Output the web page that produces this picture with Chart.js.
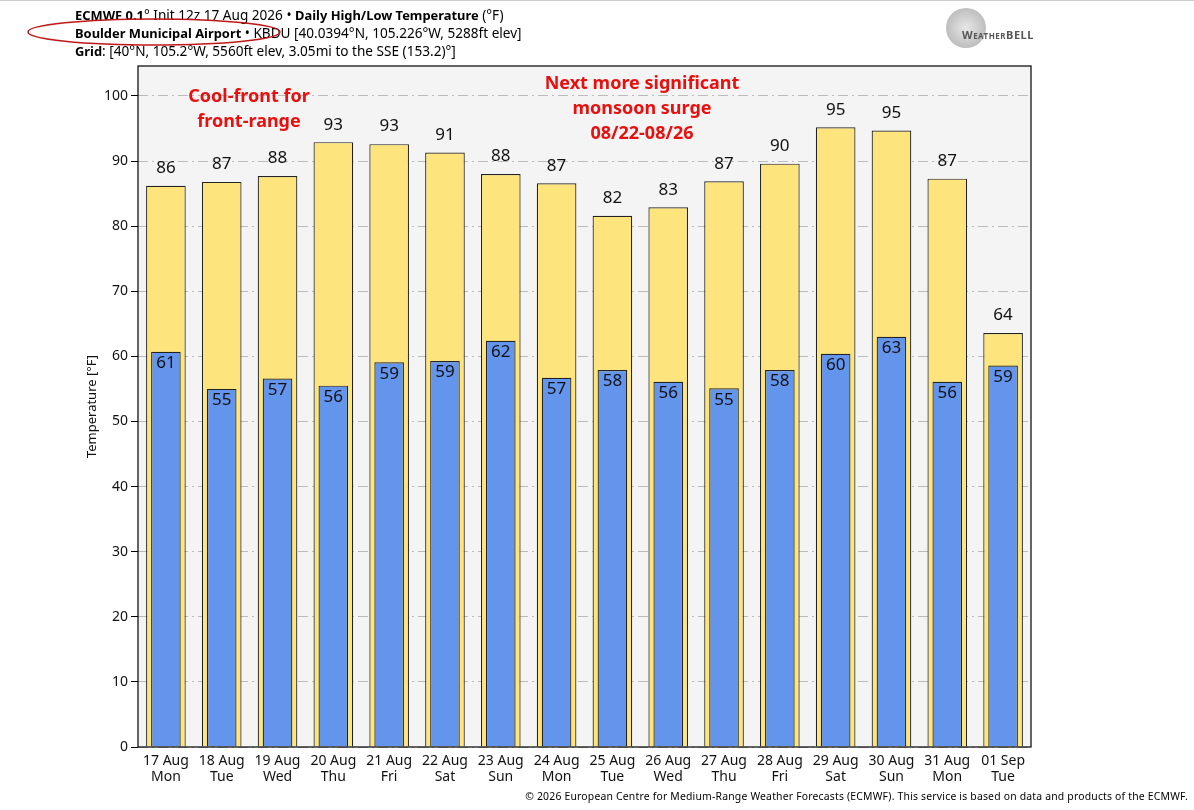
<!DOCTYPE html>
<html><head><meta charset="utf-8">
<script src="https://cdn.jsdelivr.net/npm/chart.js@4"></script>
<style>
body{margin:0;background:#fff;font-family:"Noto Sans",sans-serif;}
#wrap{position:relative;width:1194px;height:810px;overflow:hidden;}
.t{position:absolute;white-space:nowrap;color:#000;}
.hdr{left:75px;font-size:13.6px;line-height:18px;}
.hdr b{font-size:12.9px}
.red{position:absolute;color:#e8100e;font-weight:bold;font-size:18px;line-height:25px;text-align:center;}
</style></head><body>
<div id="wrap">
<canvas id="c" width="1194" height="810"></canvas>
<div style="position:absolute;left:0;top:0;width:1194px;height:1px;background:#ccc"></div>
<div class="t hdr" style="top:6px"><b>ECMWF 0.1</b>° Init 12z 17 Aug 2026 • <b>Daily High/Low Temperature</b> (°F)</div>
<div class="t hdr" style="top:24px"><b>Boulder Municipal Airport</b> • KBDU [40.0394°N, 105.226°W, 5288ft elev]</div>
<div class="t hdr" style="top:42px"><b>Grid</b>: [40°N, 105.2°W, 5560ft elev, 3.05mi to the SSE (153.2)°]</div>
<svg style="position:absolute;left:0;top:0" width="300" height="60"><ellipse cx="154" cy="32" rx="126" ry="13" fill="none" stroke="#c01818" stroke-width="1.6"/></svg>
<div class="t" style="left:946px;top:8px;width:40px;height:40px;border-radius:50%;background:radial-gradient(circle,#ddd,#888);opacity:.7"></div>
<div class="t" style="left:962px;top:27px;font-size:11px;color:#555;font-weight:bold;letter-spacing:0.5px">W<span style="font-size:8px">EATHER</span>BELL</div>
<div class="red" style="left:149px;top:83px;width:200px">Cool-front for<br>front-range</div>
<div class="red" style="left:522px;top:70px;width:240px">Next more significant<br>monsoon surge<br>08/22-08/26</div>
<div class="t" style="right:6px;top:789px;font-size:10.4px;letter-spacing:0.2px">© 2026 European Centre for Medium-Range Weather Forecasts (ECMWF). This service is based on data and products of the ECMWF.</div>
</div>
<script>
const categories=[["17 Aug","Mon"],["18 Aug","Tue"],["19 Aug","Wed"],["20 Aug","Thu"],["21 Aug","Fri"],["22 Aug","Sat"],["23 Aug","Sun"],["24 Aug","Mon"],["25 Aug","Tue"],["26 Aug","Wed"],["27 Aug","Thu"],["28 Aug","Fri"],["29 Aug","Sat"],["30 Aug","Sun"],["31 Aug","Mon"],["01 Sep","Tue"]];
const highs=[86.2,86.8,87.7,92.9,92.6,91.3,88.0,86.6,81.6,82.9,86.9,89.6,95.2,94.7,87.3,63.6];
const lows=[60.7,55.0,56.6,55.5,59.1,59.3,62.4,56.7,57.9,56.1,55.1,57.9,60.4,63.0,56.1,58.6];
const yTicks=[0,10,20,30,40,50,60,70,80,90,100];

const bgPlugin={id:'bg',beforeDraw(ch){const a=ch.chartArea,c=ch.ctx;c.save();c.fillStyle='#f4f4f4';c.fillRect(a.left,a.top,a.right-a.left,a.bottom-a.top);c.restore();},
afterDraw(ch){const a=ch.chartArea,c=ch.ctx;c.save();c.strokeStyle='#000';c.lineWidth=1.2;c.strokeRect(a.left,a.top,a.right-a.left,a.bottom-a.top);
c.font='17px "Noto Sans"';c.fillStyle='#111';c.textAlign='center';
ch.getDatasetMeta(0).data.forEach((b,i)=>{c.textBaseline='bottom';c.fillText(Math.round(highs[i]),b.x,b.y-9);});
ch.getDatasetMeta(1).data.forEach((b,i)=>{c.textBaseline='top';c.fillText(Math.round(lows[i]),b.x,b.y+3);});
c.restore();}};

new Chart(document.getElementById('c'),{type:'bar',
data:{labels:categories,datasets:[
{data:highs,backgroundColor:'#fee47c',borderColor:'#222',borderWidth:1.2,barPercentage:0.71,categoryPercentage:1,grouped:false,order:2},
{data:lows,backgroundColor:'#6495ed',borderColor:'#222',borderWidth:1.2,barPercentage:0.53,categoryPercentage:1,grouped:false,order:1}]},
options:{responsive:false,animation:false,devicePixelRatio:1,
layout:{padding:{left:80,right:163,top:66,bottom:18}},
plugins:{legend:{display:false},tooltip:{enabled:false}},
scales:{
x:{grid:{display:false,drawTicks:true},border:{display:false},ticks:{color:'#111',font:{size:14,family:'Noto Sans',lineHeight:1.15},maxRotation:0,padding:-2},afterFit(s){s.height=45;}},
y:{min:0,max:104.6,afterBuildTicks(s){s.ticks=yTicks.map(v=>({value:v}));},
 grid:{color:'#bbb',lineWidth:1,tickColor:'#000',tickLength:7,drawOnChartArea:true},border:{dash:[10,4,2,4],display:false},
 ticks:{color:'#111',font:{size:14,family:'Noto Sans'},padding:3},
 title:{display:true,text:'Temperature [°F]',color:'#111',font:{size:13,family:'Noto Sans'}},
 afterFit(s){s.width=58;}}}},
plugins:[bgPlugin]});
</script></body></html>
